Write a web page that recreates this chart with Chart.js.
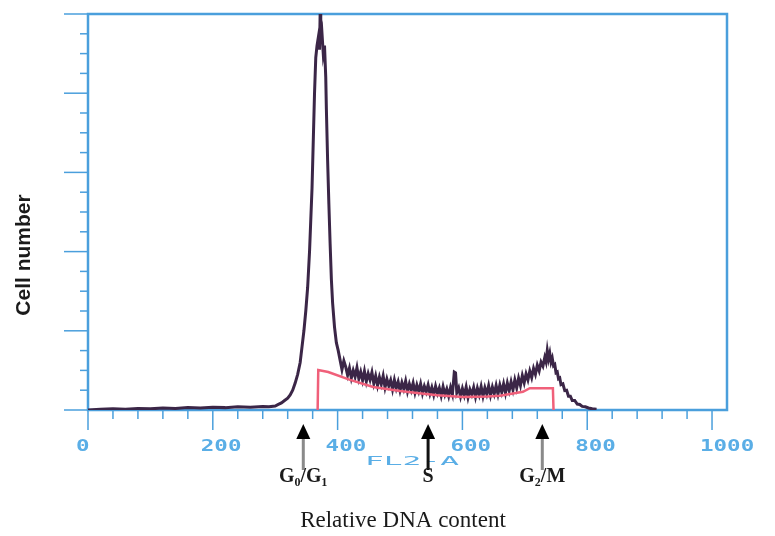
<!DOCTYPE html>
<html>
<head>
<meta charset="utf-8">
<script src="https://cdn.jsdelivr.net/npm/chart.js@4"></script>
<style>
  html, body { margin: 0; padding: 0; background: #fff; }
  canvas { display: block; }
</style>
</head>
<body>
<canvas id="chart" width="775" height="536"></canvas>
<script>
// DNA histogram: FL2-A channel and relative cell number (0-100)
const channels = [0, 20, 40, 60, 80, 100, 120, 140, 160, 180, 200, 220, 240, 260, 280, 290,
  300, 305, 310, 315, 320, 324, 328, 332, 336, 340, 343, 346, 349, 352, 355, 357, 359, 361,
  363, 365, 367, 369, 371, 372, 373, 375, 377, 379, 381, 382, 384, 386, 388, 390, 392, 395, 398,
  401, 404, 407, 410, 413, 416, 419, 422, 425, 428, 431, 434, 437, 440, 443, 446, 449, 452,
  455, 458, 461, 464, 467, 470, 473, 476, 479, 482, 485, 488, 491, 494, 497, 500, 503, 506,
  509, 512, 515, 518, 521, 524, 527, 530, 533, 536, 539, 542, 545, 548, 551, 554, 557, 560,
  563, 566, 569, 572, 575, 578, 581, 584, 587, 589, 591, 594, 597, 600, 603, 606, 609, 612,
  615, 618, 621, 624, 627, 630, 633, 636, 639, 642, 645, 648, 651, 654, 657, 660, 663, 666,
  669, 672, 675, 678, 681, 684, 687, 690, 693, 696, 699, 702, 705, 708, 711, 714, 717, 720,
  723, 726, 729, 732, 734, 736, 738, 740, 742, 744, 746, 748, 750, 752, 754, 756, 758, 761,
  764, 767, 770, 773, 776, 780, 784, 788, 792, 797, 802, 808, 815];
const cellCounts = [0, 0.2, 0.3, 0.2, 0.4, 0.3, 0.5, 0.4, 0.6, 0.5, 0.7, 0.6, 0.8, 0.7, 0.9, 0.8,
  1.0, 1.4, 1.8, 2.4, 3.0, 3.8, 5.0, 6.8, 9.0, 12, 16, 20, 25, 31, 40, 48, 56, 68,
  80, 89, 92, 94, 91, 100, 93, 95, 90, 92, 84, 76, 63, 52, 42, 33, 27, 21, 17,
  15, 12.6, 10.2, 12.4, 10.9, 8.8, 10.6, 8.1, 10.0, 8.4, 10.7, 7.9, 9.6, 7.5, 9.8, 7.2, 9.2, 7.6,
  9.5, 6.7, 8.6, 6.2, 8.3, 6.5, 8.6, 5.7, 7.8, 6.1, 7.5, 5.2, 7.6, 5.5, 7.1, 4.9, 6.9, 5.3,
  7.3, 4.7, 6.6, 5.0, 6.8, 4.4, 6.3, 4.7, 6.6, 4.2, 6.0, 4.6, 6.3, 4.1, 5.7, 3.8, 6.0, 4.2,
  5.6, 3.6, 5.9, 3.9, 5.3, 3.5, 5.7, 4.0, 9.6, 9.4, 4.4, 5.6, 3.4, 5.4, 3.7, 5.8, 3.2, 5.2,
  3.9, 5.7, 3.3, 5.5, 3.8, 5.9, 3.5, 5.6, 4.0, 6.1, 3.7, 5.8, 4.1, 6.2, 4.0, 6.3, 4.5, 6.6,
  4.3, 6.8, 4.9, 7.1, 5.1, 7.6, 5.6, 8.0, 6.2, 8.7, 6.9, 9.1, 7.6, 9.8, 8.2, 10.5, 9.0, 11.3,
  9.9, 12.1, 11.1, 13.3, 12.2, 15.0, 12.9, 14.3, 12.1, 13.1, 11.2, 11.5, 9.4, 9.6, 7.9, 8.1, 6.4, 6.6,
  4.9, 5.0, 3.5, 3.5, 2.4, 2.4, 1.5, 1.4, 0.9, 0.8, 0.5, 0.3, 0.2];

// S-phase fit (red trace)
const fitChannels = [368, 369, 385, 420, 457, 500, 527, 560, 601, 640, 660, 697, 708, 745, 746];
const fitCounts = [0, 10.1, 9.6, 7.6, 5.8, 4.8, 4.3, 3.7, 3.3, 3.4, 3.6, 4.6, 5.5, 5.5, 0];

// axis labels and cell-cycle markers
const xTickValues = [0, 200, 400, 600, 800, 1000];
const xTickLabels = ['0', '200', '400', '600', '800', '1000'];
const phaseChannels = [345, 545, 728];
const phaseLabels = ['G₀/G₁', 'S', 'G₂/M'];
const phaseShaftColors = ['#8a8a8a', '#111111', '#8a8a8a'];

const axisBlue = '#4a9fdc';
const labelBlue = '#5aaee6';

// blue frame + ticks, drawn under the traces
const framePlugin = {
  id: 'frame',
  beforeDatasetsDraw(chart) {
    const { ctx, chartArea: a, scales: { x, y } } = chart;
    ctx.save();
    ctx.strokeStyle = axisBlue;
    ctx.lineWidth = 2.5;
    ctx.strokeRect(a.left, a.top, a.right - a.left, a.bottom - a.top);

    ctx.lineWidth = 1.5;
    for (let v = 0; v <= 100; v += 5) {
      const py = y.getPixelForValue(v);
      const len = v % 20 === 0 ? 24 : 8;
      ctx.beginPath();
      ctx.moveTo(a.left - len, py);
      ctx.lineTo(a.left, py);
      ctx.stroke();
    }
    for (let v = 0; v <= 1000; v += 40) {
      const px = x.getPixelForValue(v);
      const len = v % 200 === 0 ? 20 : 9;
      ctx.beginPath();
      ctx.moveTo(px, a.bottom);
      ctx.lineTo(px, a.bottom + len);
      ctx.stroke();
    }
    ctx.restore();
  },
  afterDraw(chart) {
    const { ctx, scales: { x } } = chart;
    ctx.save();
    // tick labels, wide blocky blue digits
    ctx.fillStyle = labelBlue;
    ctx.font = 'bold 15px "DejaVu Sans Mono"';
    ctx.textBaseline = 'middle';
    ctx.textAlign = 'left';
    xTickValues.forEach((v, i) => {
      ctx.save();
      ctx.translate(x.getPixelForValue(v) - 12, 447);
      ctx.scale(1.5, 1);
      ctx.fillText(xTickLabels[i], 0, 0);
      ctx.restore();
    });
    ctx.save();
    ctx.font = '13px "DejaVu Sans Mono"';
    ctx.translate(412, 462);
    ctx.scale(2.4, 1);
    ctx.textAlign = 'center';
    ctx.fillText('FL2-A', 0, 0);
    ctx.restore();

    // arrows
    phaseChannels.forEach((c, i) => {
      const px = x.getPixelForValue(c);
      ctx.fillStyle = phaseShaftColors[i];
      ctx.fillRect(px - 1.5, 437, 3, 33);
      ctx.fillStyle = '#000';
      ctx.beginPath();
      ctx.moveTo(px, 424);
      ctx.lineTo(px - 7, 439);
      ctx.lineTo(px + 7, 439);
      ctx.closePath();
      ctx.fill();
      ctx.font = 'bold 20px "Liberation Serif"';
      ctx.textAlign = 'center';
      ctx.textBaseline = 'middle';
      ctx.fillStyle = '#1a1a1a';
      ctx.fillText(phaseLabels[i], px, 477);
    });

    // axis titles
    ctx.fillStyle = '#1a1a1a';
    ctx.font = '23px "Liberation Serif"';
    ctx.textAlign = 'center';
    ctx.textBaseline = 'middle';
    ctx.fillText('Relative DNA content', 403, 521);

    ctx.save();
    ctx.translate(24, 255);
    ctx.rotate(-Math.PI / 2);
    ctx.font = 'bold 21px "Liberation Sans"';
    ctx.fillText('Cell number', 0, 0);
    ctx.restore();
    ctx.restore();
  }
};

new Chart(document.getElementById('chart'), {
  type: 'line',
  data: {
    datasets: [
      {
        label: 'S phase',
        data: fitChannels.map((c, i) => ({ x: c, y: fitCounts[i] })),
        borderColor: '#f0607a',
        borderWidth: 2.5,
        pointRadius: 0,
        tension: 0
      },
      {
        label: 'FL2-A',
        data: channels.map((c, i) => ({ x: c, y: cellCounts[i] })),
        borderColor: '#3b2647',
        borderWidth: 3,
        pointRadius: 0,
        tension: 0
      }
    ]
  },
  options: {
    responsive: false,
    animation: false,
    layout: { padding: { left: 88, top: 14, right: 48, bottom: 126 } },
    plugins: { legend: { display: false }, tooltip: { enabled: false } },
    scales: {
      x: { type: 'linear', min: 0, max: 1024, display: false },
      y: { min: 0, max: 100, display: false }
    }
  },
  plugins: [framePlugin]
});
</script>
</body>
</html>
